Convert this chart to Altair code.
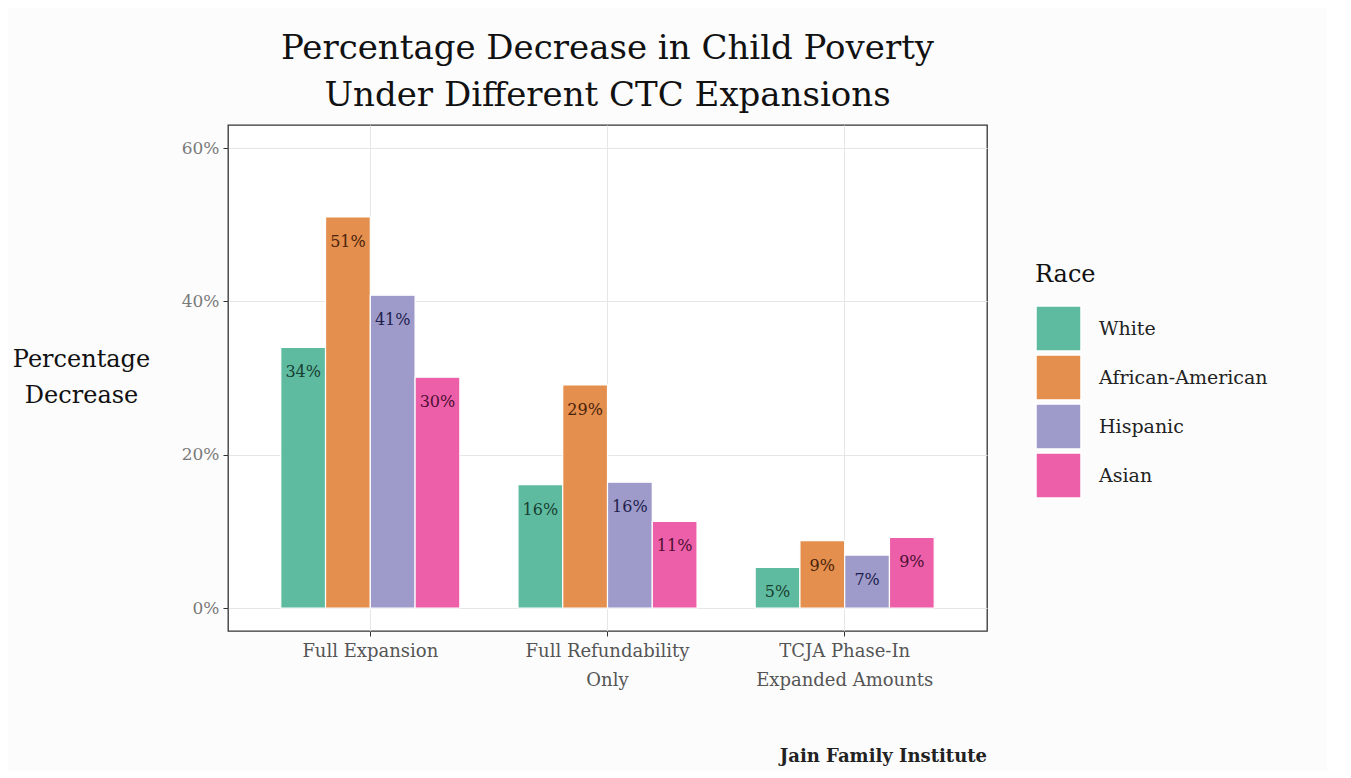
import altair as alt
import pandas as pd

categories = ["Full Expansion", "Full Refundability\nOnly", "TCJA Phase-In\nExpanded Amounts"]
races = ["White", "African-American", "Hispanic", "Asian"]
white = [34.0, 16.1, 5.3]
african_american = [51.0, 29.1, 8.8]
hispanic = [40.8, 16.4, 6.9]
asian = [30.1, 11.3, 9.2]

title_lines = ["Percentage Decrease in Child Poverty", "Under Different CTC Expansions"]
caption = "Jain Family Institute"

bar_colors = ["#5fbba0", "#e48f4e", "#9e9bca", "#ee5fa9"]
text_colors = ["#173f31", "#4a230b", "#211e4d", "#4d0f33"]

rows = []
for series, name in zip([white, african_american, hispanic, asian], races):
    for cat, v in zip(categories, series):
        rows.append({"category": cat, "race": name, "value": v})
df = pd.DataFrame(rows)

FONT = "DejaVu Serif"

x_enc = alt.X(
    "category:N",
    sort=categories,
    title=None,
    scale=alt.Scale(paddingInner=0.245, paddingOuter=0.2225),
    axis=alt.Axis(
        labelExpr="split(datum.label, '\\n')",
        labelAngle=0,
        labelFontSize=18,
        labelColor="#555555",
        labelLineHeight=29,
        labelPadding=6,
        tickSize=5,
        tickColor="#333333",
        domain=False,
        grid=True,
        gridColor="#e6e6e6",
        bandPosition=0.5,
    ),
)

y_enc = alt.Y(
    "value:Q",
    scale=alt.Scale(domain=[-3, 63], nice=False, zero=False),
    axis=alt.Axis(
        values=[0, 20, 40, 60],
        labelExpr="datum.value + '%'",
        labelFontSize=17,
        labelColor="#7a7a7a",
        labelPadding=4,
        tickSize=5,
        tickColor="#333333",
        domain=False,
        gridColor="#e6e6e6",
        title=["Percentage", "Decrease"],
        titleAngle=0,
        titleAlign="center",
        titleBaseline="top",
        titleX=-147,
        titleY=222,
        titleFontSize=24,
        titleFontWeight="normal",
        titleColor="#111111",
        titleLineHeight=36,
    ),
)

base = alt.Chart(df)

bars = base.mark_bar(stroke="white", strokeWidth=1.2).encode(
    x=x_enc,
    xOffset=alt.XOffset("race:N", sort=races, scale=alt.Scale(paddingInner=0.0)),
    y=y_enc,
    y2=alt.datum(0),
    color=alt.Color(
        "race:N",
        sort=races,
        scale=alt.Scale(domain=races, range=bar_colors),
        legend=alt.Legend(
            title="Race",
            orient="none",
            legendX=807,
            legendY=138,
            titleFontSize=24,
            titleFontWeight="normal",
            titleColor="#111111",
            titlePadding=18,
            labelFontSize=19,
            labelColor="#222222",
            labelOffset=17,
            labelLimit=400,
            symbolType="square",
            symbolSize=2025,
            symbolStrokeColor="white",
            symbolStrokeWidth=1.5,
            symbolOpacity=1,
            rowPadding=-6,
        ),
    ),
)

labels = base.transform_calculate(
    label="format(datum.value, '.0f') + '%'"
).mark_text(baseline="middle", align="center", dy=25, fontSize=16, font=FONT).encode(
    x=alt.X("category:N", sort=categories),
    xOffset=alt.XOffset("race:N", sort=races),
    y=alt.Y("value:Q"),
    text="label:N",
    color=alt.Color("race:N", scale=alt.Scale(domain=races, range=text_colors), legend=None),
)

cap = alt.Chart(pd.DataFrame({"t": [caption]})).mark_text(
    align="right", baseline="middle", fontSize=18, fontWeight="bold", font=FONT, color="#222222"
).encode(text="t:N", x=alt.value(759), y=alt.value(632))

chart = (
    alt.layer(bars, labels, cap)
    .resolve_scale(color="independent")
    .properties(
        width=759,
        height=506,
        autosize=alt.AutoSizeParams(type="none"),
        padding={"left": 220, "top": 117, "right": 340, "bottom": 140},
        background="#fcfcfc",
        title=alt.TitleParams(
            title_lines,
            fontSize=34,
            fontWeight="normal",
            font=FONT,
            color="#111111",
            anchor="middle",
            frame="group",
            lineHeight=47,
            offset=12,
        ),
    )
    .configure(font=FONT)
    .configure_view(stroke="#333333", strokeWidth=1.3, fill="white")
)

chart.save("out.html", embed_options={"renderer": "svg", "actions": False})
